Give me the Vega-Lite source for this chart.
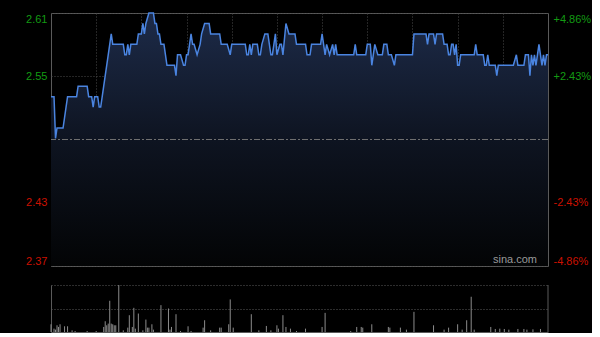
{
  "$schema": "https://vega.github.io/schema/vega-lite/v6.json",
  "background": "#000000",
  "padding": {"left": 25, "top": 9, "right": 0, "bottom": 0},
  "spacing": 17,
  "config": {
    "view": {"stroke": "#5a5a5a", "strokeWidth": 1},
    "axis": {"labelFont": "Liberation Sans Narrow, Liberation Sans, Arial, sans-serif", "labelFontSize": 11}
  },
  "datasets": {
    "price": [
      {"t":0,"price":2.53},{"t":2,"price":2.53},{"t":3,"price":2.49},{"t":4,"price":2.50},{"t":8,"price":2.50},{"t":9,"price":2.51},{"t":10,"price":2.52},{"t":11,"price":2.53},{"t":17,"price":2.53},{"t":18,"price":2.54},{"t":24,"price":2.54},{"t":25,"price":2.53},{"t":27,"price":2.53},{"t":28,"price":2.52},{"t":29,"price":2.53},{"t":31,"price":2.53},{"t":32,"price":2.52},{"t":33,"price":2.52},{"t":34,"price":2.53},{"t":35,"price":2.54},{"t":36,"price":2.55},{"t":37,"price":2.56},{"t":38,"price":2.57},{"t":39,"price":2.58},{"t":40,"price":2.59},{"t":41,"price":2.58},{"t":48,"price":2.58},{"t":49,"price":2.57},{"t":50,"price":2.57},{"t":51,"price":2.58},{"t":52,"price":2.57},{"t":53,"price":2.58},{"t":57,"price":2.58},{"t":58,"price":2.59},{"t":60,"price":2.59},{"t":61,"price":2.60},{"t":62,"price":2.59},{"t":63,"price":2.60},{"t":65,"price":2.61},{"t":68,"price":2.61},{"t":69,"price":2.60},{"t":70,"price":2.60},{"t":71,"price":2.59},{"t":72,"price":2.59},{"t":73,"price":2.58},{"t":75,"price":2.58},{"t":76,"price":2.57},{"t":77,"price":2.56},{"t":82,"price":2.56},{"t":83,"price":2.55},{"t":84,"price":2.57},{"t":86,"price":2.57},{"t":88,"price":2.56},{"t":89,"price":2.56},{"t":90,"price":2.57},{"t":91,"price":2.57},{"t":93,"price":2.59},{"t":94,"price":2.58},{"t":95,"price":2.58},{"t":97,"price":2.57},{"t":99,"price":2.58},{"t":100,"price":2.59},{"t":102,"price":2.60},{"t":105,"price":2.60},{"t":106,"price":2.59},{"t":112,"price":2.59},{"t":113,"price":2.58},{"t":117,"price":2.58},{"t":119,"price":2.57},{"t":120,"price":2.58},{"t":129,"price":2.58},{"t":130,"price":2.57},{"t":131,"price":2.57},{"t":132,"price":2.58},{"t":133,"price":2.57},{"t":134,"price":2.58},{"t":137,"price":2.58},{"t":138,"price":2.57},{"t":139,"price":2.57},{"t":140,"price":2.58},{"t":142,"price":2.59},{"t":144,"price":2.59},{"t":145,"price":2.58},{"t":146,"price":2.57},{"t":147,"price":2.57},{"t":148,"price":2.58},{"t":149,"price":2.59},{"t":150,"price":2.57},{"t":152,"price":2.58},{"t":153,"price":2.58},{"t":154,"price":2.57},{"t":156,"price":2.60},{"t":158,"price":2.59},{"t":162,"price":2.59},{"t":163,"price":2.58},{"t":169,"price":2.58},{"t":170,"price":2.57},{"t":172,"price":2.57},{"t":173,"price":2.58},{"t":179,"price":2.58},{"t":180,"price":2.59},{"t":182,"price":2.57},{"t":183,"price":2.58},{"t":185,"price":2.57},{"t":187,"price":2.58},{"t":188,"price":2.57},{"t":189,"price":2.58},{"t":190,"price":2.57},{"t":201,"price":2.57},{"t":202,"price":2.58},{"t":203,"price":2.57},{"t":209,"price":2.57},{"t":210,"price":2.58},{"t":212,"price":2.58},{"t":213,"price":2.56},{"t":215,"price":2.58},{"t":217,"price":2.57},{"t":220,"price":2.57},{"t":221,"price":2.58},{"t":223,"price":2.58},{"t":224,"price":2.57},{"t":226,"price":2.57},{"t":228,"price":2.56},{"t":229,"price":2.57},{"t":240,"price":2.57},{"t":241,"price":2.59},{"t":249,"price":2.59},{"t":250,"price":2.58},{"t":251,"price":2.59},{"t":254,"price":2.59},{"t":255,"price":2.58},{"t":256,"price":2.59},{"t":260,"price":2.59},{"t":261,"price":2.58},{"t":263,"price":2.58},{"t":264,"price":2.57},{"t":265,"price":2.57},{"t":266,"price":2.58},{"t":267,"price":2.58},{"t":268,"price":2.57},{"t":269,"price":2.58},{"t":270,"price":2.56},{"t":271,"price":2.56},{"t":272,"price":2.57},{"t":281,"price":2.57},{"t":282,"price":2.58},{"t":283,"price":2.57},{"t":287,"price":2.57},{"t":288,"price":2.56},{"t":289,"price":2.56},{"t":290,"price":2.57},{"t":291,"price":2.56},{"t":295,"price":2.56},{"t":296,"price":2.55},{"t":297,"price":2.56},{"t":307,"price":2.56},{"t":309,"price":2.57},{"t":310,"price":2.56},{"t":314,"price":2.56},{"t":315,"price":2.57},{"t":317,"price":2.57},{"t":318,"price":2.55},{"t":319,"price":2.57},{"t":320,"price":2.56},{"t":321,"price":2.57},{"t":322,"price":2.56},{"t":324,"price":2.58},{"t":326,"price":2.56},{"t":327,"price":2.57},{"t":328,"price":2.56},{"t":329,"price":2.57},{"t":330,"price":2.57}
    ],
    "volume": [
      {"t":0,"vol":23},{"t":2,"vol":10},{"t":3,"vol":7},{"t":4,"vol":20},{"t":5,"vol":15},{"t":6,"vol":23},{"t":9,"vol":17},{"t":11,"vol":17},{"t":14,"vol":5},{"t":16,"vol":3},{"t":24,"vol":3},{"t":30,"vol":3},{"t":35,"vol":15},{"t":36,"vol":32},{"t":37,"vol":20},{"t":38,"vol":25},{"t":39,"vol":93},{"t":40,"vol":25},{"t":41,"vol":23},{"t":42,"vol":20},{"t":43,"vol":20},{"t":45,"vol":140},{"t":48,"vol":5},{"t":51,"vol":13},{"t":52,"vol":50},{"t":54,"vol":15},{"t":55,"vol":72},{"t":56,"vol":10},{"t":58,"vol":55},{"t":61,"vol":5},{"t":63,"vol":37},{"t":64,"vol":13},{"t":65,"vol":13},{"t":67,"vol":23},{"t":68,"vol":7},{"t":73,"vol":80},{"t":78,"vol":70},{"t":79,"vol":7},{"t":80,"vol":15},{"t":83,"vol":53},{"t":86,"vol":3},{"t":91,"vol":17},{"t":93,"vol":3},{"t":101,"vol":13},{"t":102,"vol":35},{"t":106,"vol":5},{"t":112,"vol":13},{"t":113,"vol":13},{"t":118,"vol":23},{"t":119,"vol":97},{"t":121,"vol":13},{"t":133,"vol":53},{"t":138,"vol":5},{"t":143,"vol":18},{"t":146,"vol":5},{"t":150,"vol":20},{"t":151,"vol":10},{"t":154,"vol":50},{"t":156,"vol":15},{"t":159,"vol":10},{"t":163,"vol":3},{"t":169,"vol":10},{"t":180,"vol":15},{"t":182,"vol":57},{"t":199,"vol":3},{"t":203,"vol":15},{"t":206,"vol":15},{"t":207,"vol":13},{"t":213,"vol":23},{"t":224,"vol":15},{"t":225,"vol":13},{"t":232,"vol":13},{"t":236,"vol":7},{"t":241,"vol":60},{"t":254,"vol":20},{"t":261,"vol":7},{"t":264,"vol":13},{"t":270,"vol":23},{"t":273,"vol":7},{"t":276,"vol":35},{"t":279,"vol":105},{"t":281,"vol":7},{"t":292,"vol":15},{"t":295,"vol":9},{"t":298,"vol":10},{"t":301,"vol":9},{"t":304,"vol":7},{"t":310,"vol":9},{"t":314,"vol":9},{"t":316,"vol":7},{"t":320,"vol":8},{"t":325,"vol":9}
    ]
  },
  "vconcat": [
    {
      "width": 497,
      "height": 253,
      "layer": [
        {
          "layer": [
            {
              "data": {"name": "price"},
              "mark": {
                "type": "area",
                "color": {"gradient": "linear", "x1": 0, "y1": 0, "x2": 0, "y2": 1,
                  "stops": [{"offset": 0, "color": "#1d2b49"}, {"offset": 0.5, "color": "#0e1421"}, {"offset": 1, "color": "#030405"}]}
              },
              "encoding": {
                "x": {"field": "t", "type": "quantitative",
                  "scale": {"domain": [0, 330], "nice": false, "zero": false},
                  "axis": {"title": null, "labels": false, "ticks": false, "domain": false, "grid": true,
                    "values": [30, 60, 90, 120, 150, 180, 210, 240, 270, 300],
                    "gridColor": "#4a4a4a", "gridDash": [1, 2], "gridWidth": 1}},
                "y": {"field": "price", "type": "quantitative",
                  "scale": {"domain": [2.368, 2.61], "nice": false, "zero": false},
                  "axis": {"title": null, "values": [2.368, 2.4285, 2.5495, 2.61], "format": ".2f",
                    "labelFlush": true, "ticks": false, "domain": false, "labelPadding": 4,
                    "labelColor": {"condition": {"test": "datum.value > 2.489", "value": "#139a13"}, "value": "#cc1100"},
                    "grid": true, "gridColor": "#4a4a4a", "gridDash": [1, 2]}},
                "y2": {"datum": 2.368}
              }
            },
            {
              "data": {"values": [{}]},
              "mark": {"type": "rule", "color": "#6f6f6f", "strokeDash": [6, 2, 2, 2], "strokeWidth": 1},
              "encoding": {"y": {"datum": 2.489, "type": "quantitative"}}
            },
            {
              "data": {"values": [{}]},
              "mark": {"type": "text", "align": "right", "baseline": "bottom", "dx": -11, "dy": -1,
                "color": "#9a9a9a", "fontSize": 11, "font": "Liberation Sans, Arial, sans-serif"},
              "encoding": {
                "x": {"datum": 330, "type": "quantitative"},
                "y": {"datum": 2.368, "type": "quantitative"},
                "text": {"value": "sina.com"}
              }
            }
          ]
        },
        {
          "data": {"name": "price"},
          "mark": {"type": "line", "color": "#4a84e0", "strokeWidth": 1.5},
          "encoding": {
            "x": {"field": "t", "type": "quantitative"},
            "y": {"field": "price", "type": "quantitative",
              "scale": {"domain": [2.368, 2.61], "nice": false, "zero": false},
              "axis": {"orient": "right", "title": null, "values": [2.368, 2.4285, 2.5495, 2.61],
                "labelExpr": "(datum.value > 2.489 ? '+' : '-') + format(abs(datum.value / 2.489 - 1) * 100, '.2f') + '%'",
                "labelFlush": true, "ticks": false, "domain": false, "labelPadding": 5, "grid": false,
                "labelColor": {"condition": {"test": "datum.value > 2.489", "value": "#139a13"}, "value": "#cc1100"}}}
          }
        }
      ],
      "resolve": {"scale": {"y": "independent"}}
    },
    {
      "width": 497,
      "height": 47,
      "view": {"stroke": null},
      "layer": [
        {
          "data": {"name": "volume"},
          "mark": {"type": "rule", "color": "#8c8c8c", "strokeWidth": 1},
          "encoding": {
            "x": {"field": "t", "type": "quantitative",
              "scale": {"domain": [0, 330], "nice": false, "zero": false},
              "axis": {"title": null, "labels": false, "ticks": false, "domain": true, "domainColor": "#5a5a5a", "grid": false}},
            "y": {"field": "vol", "type": "quantitative",
              "scale": {"domain": [0, 140], "nice": false},
              "axis": {"title": null, "labels": false, "ticks": false, "domain": true, "domainColor": "#5a5a5a",
                "grid": true, "values": [70, 140], "gridColor": "#5a5a5a", "gridDash": [1, 2]}},
            "y2": {"datum": 0}
          }
        },
        {
          "data": {"values": [{}]},
          "mark": {"type": "rule", "color": "#5a5a5a"},
          "encoding": {"x": {"datum": 330, "type": "quantitative"}}
        }
      ]
    }
  ]
}
